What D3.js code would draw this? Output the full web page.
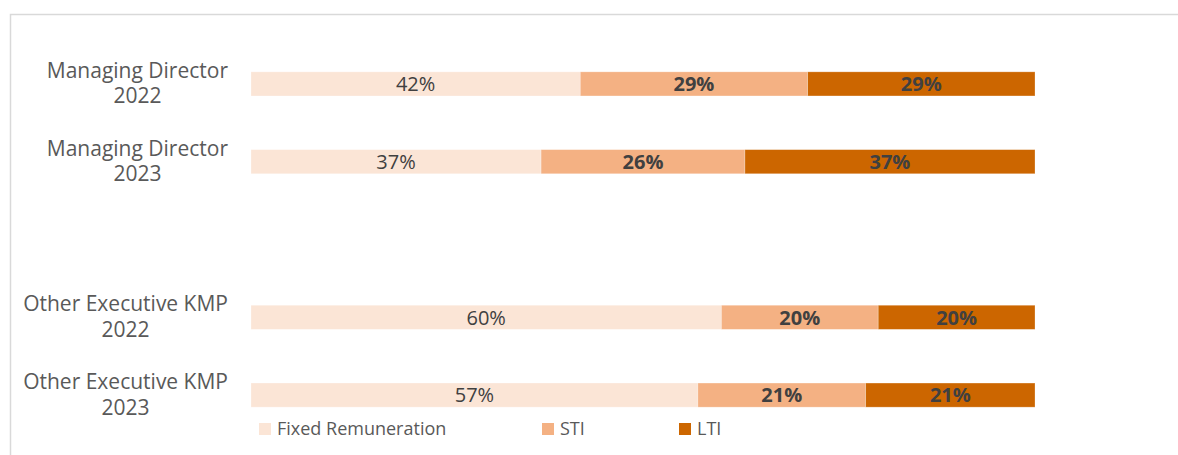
<!DOCTYPE html>
<html>
<head>
<meta charset="utf-8">
<script src="https://cdn.jsdelivr.net/npm/d3@7"></script>
<style>
  body { margin: 0; background: #fff; }
  svg { display: block; font-family: "Open Sans", sans-serif; }
</style>
</head>
<body>
<div id="chart"></div>
<script>
// categories (the blank one is the empty spacer row in the original sheet)
const categories = [
  ["Managing Director", "2022"],
  ["Managing Director", "2023"],
  [],
  ["Other Executive KMP", "2022"],
  ["Other Executive KMP", "2023"]
];
const seriesNames = ["Fixed Remuneration", "STI", "LTI"];
const fixedValues = [42, 37, null, 60, 57];
const stiValues   = [29, 26, null, 20, 21.4];
const ltiValues   = [29, 37, null, 20, 21.6];
const colors = ["#FBE5D6", "#F4B183", "#CC6600"];

const width = 1178, height = 455;

const rows = categories.map((c, i) => ({
  key: "r" + i,
  lines: c,
  "Fixed Remuneration": fixedValues[i] || 0,
  "STI": stiValues[i] || 0,
  "LTI": ltiValues[i] || 0,
  empty: fixedValues[i] == null
}));

const svg = d3.select("#chart").append("svg")
  .attr("width", width)
  .attr("height", height);

// chart frame
svg.append("path")
  .attr("d", "M10.5," + height + "V14.5H" + width)
  .attr("fill", "none")
  .attr("stroke", "#d9d9d9")
  .attr("stroke-width", 1.5);

const y = d3.scaleBand()
  .domain(rows.map(d => d.key))
  .range([45, 434])
  .paddingInner(0.69)
  .paddingOuter(0.345);

const x = d3.scaleLinear().domain([0, 1]).range([251, 1035]);

const stack = d3.stack().keys(seriesNames).offset(d3.stackOffsetExpand);
const series = stack(rows.filter(d => !d.empty));

const layer = svg.selectAll("g.layer")
  .data(series)
  .join("g")
  .attr("class", "layer")
  .attr("fill", (d, i) => colors[i]);

layer.selectAll("rect")
  .data(d => d)
  .join("rect")
  .attr("x", d => x(d[0]))
  .attr("y", d => y(d.data.key))
  .attr("width", d => x(d[1]) - x(d[0]))
  .attr("height", y.bandwidth())
  .attr("stroke", "rgba(255,255,255,0.35)")
  .attr("stroke-width", 0.75);

// data labels
layer.selectAll("text")
  .data((d, i) => d.map(p => ({ p, key: d.key, i })))
  .join("text")
  .attr("x", d => (x(d.p[0]) + x(d.p[1])) / 2)
  .attr("y", d => y(d.p.data.key) + y.bandwidth() / 2)
  .attr("dy", "0.36em")
  .attr("text-anchor", "middle")
  .attr("font-size", 20)
  .attr("font-weight", d => d.i === 0 ? 400 : 700)
  .attr("fill", "#404040")
  .text(d => Math.floor(d.p.data[d.key]) + "%");

// category labels, each block centred and right aligned against the axis
const labelRight = 228;
rows.filter(d => !d.empty).forEach(d => {
  const cy = y(d.key) + y.bandwidth() / 2;
  const t = svg.append("text")
    .attr("font-size", 21)
    .attr("fill", "#595959")
    .attr("text-anchor", "middle");
  d.lines.forEach((line, j) => {
    t.append("tspan").attr("y", cy - 6 + j * 25.5).text(line);
  });
  const w = d3.max(t.selectAll("tspan").nodes(), n => n.getComputedTextLength());
  t.selectAll("tspan").attr("x", labelRight - w / 2);
});

// legend
const legendX = [259, 542, 679];
const legend = svg.selectAll("g.legend")
  .data(seriesNames)
  .join("g")
  .attr("class", "legend")
  .attr("transform", (d, i) => `translate(${legendX[i]},423)`);

legend.append("rect")
  .attr("width", 12)
  .attr("height", 12)
  .attr("fill", (d, i) => colors[i]);

legend.append("text")
  .attr("x", 18)
  .attr("y", 6)
  .attr("dy", "0.36em")
  .attr("font-size", 18)
  .attr("fill", "#595959")
  .text(d => d);
</script>
</body>
</html>
